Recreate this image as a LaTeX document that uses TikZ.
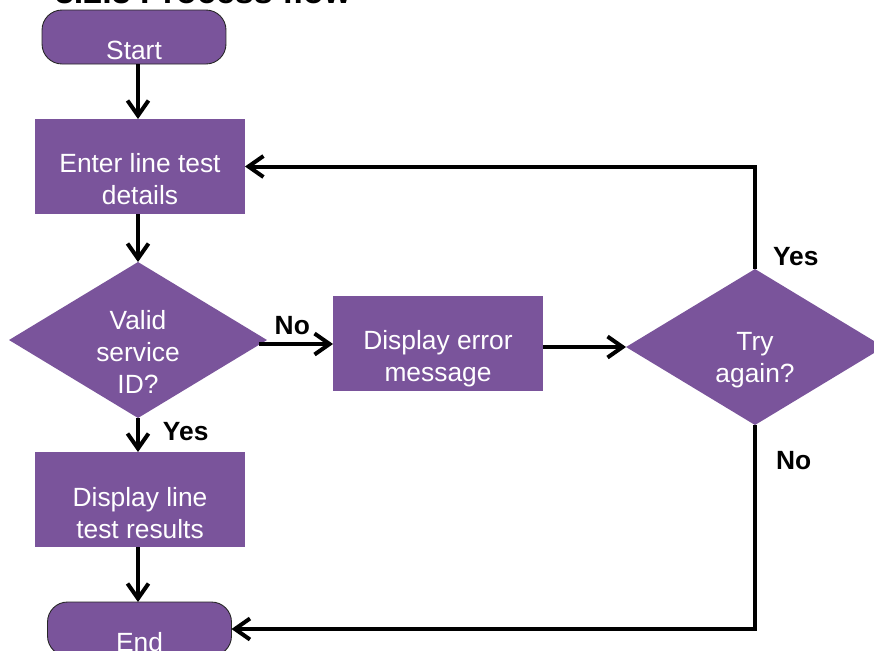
\documentclass[tikz,border=0pt]{standalone}
\usepackage{fontspec}
\setmainfont{Liberation Sans}
\usetikzlibrary{shapes.geometric,arrows.meta}
\definecolor{flowpurple}{RGB}{122,84,155}

\begin{document}
\begin{tikzpicture}[x=0.02cm,y=-0.02cm,inner sep=0pt,outer sep=0pt,line width=0.08cm,
flow/.style={-{Straight Barb[length=0.3cm,width=0.42cm]}},
termblock/.style={draw=black!85,line width=0.5pt,fill=flowpurple,rectangle,rounded corners=0.4cm,minimum width=3.68cm,minimum height=1.08cm},
procblock/.style={fill=flowpurple,rectangle,minimum width=4.2cm,minimum height=1.9cm},
decblock/.style={fill=flowpurple,diamond,minimum width=5.16cm,minimum height=3.12cm},
blocktext/.style={text=white,align=center,font=\fontsize{15}{18.2}\selectfont},
yesno/.style={font=\fontsize{15}{18}\selectfont\bfseries}]
\useasboundingbox (0,0) rectangle (874,650);

\node[anchor=base west,font=\fontsize{19.4}{23}\selectfont\bfseries] (title) at (55,3) {3.2.3 Process flow};

\node[termblock,label={[blocktext,yshift=-0.26cm]center:Start}] (start) at (134,37) {};
\node[procblock,label={[blocktext,yshift=-0.25cm]center:{Enter line test\\details}}] (enter) at (140,166.5) {};
\node[decblock,label={[blocktext,yshift=-0.24cm]center:{Valid\\service\\ID?}}] (valid) at (138,340) {};
\node[procblock,label={[blocktext,yshift=-0.31cm]center:{Display error\\message}}] (error) at (438,343.5) {};
\node[decblock,label={[blocktext,yshift=-0.26cm]center:{Try\\again?}}] (try) at (755,347) {};
\node[procblock,label={[blocktext,yshift=-0.27cm]center:{Display line\\test results}}] (results) at (140,499.5) {};
\node[termblock,label={[blocktext,yshift=-0.26cm]center:End}] (end) at (139.5,629) {};

\draw[flow] (start.south -| valid.north) -- (valid.north |- enter.north);
\draw[flow] (enter.south -| valid.north) -- (valid.north);
\draw[flow] (valid.south) -- (valid.south |- results.north) node[yesno,pos=0.41,right=0.5cm] {Yes};
\draw[flow] (results.south -| valid.south) -- (valid.south |- end.north);
\draw[flow] (valid.east) ++(-8,4) -- (error.west |- 0,344) node[yesno,pos=0.45,above=0.18cm] {No};
\draw[flow] (error.east |- try.west) -- (try.west);
\draw[flow] (try.north) |- (enter.east) node[yesno,pos=0.06,right=0.36cm] {Yes};
\draw[flow] (try.south) |- (end.east) node[yesno,pos=0.088,right=0.42cm] {No};
\end{tikzpicture}
\end{document}
